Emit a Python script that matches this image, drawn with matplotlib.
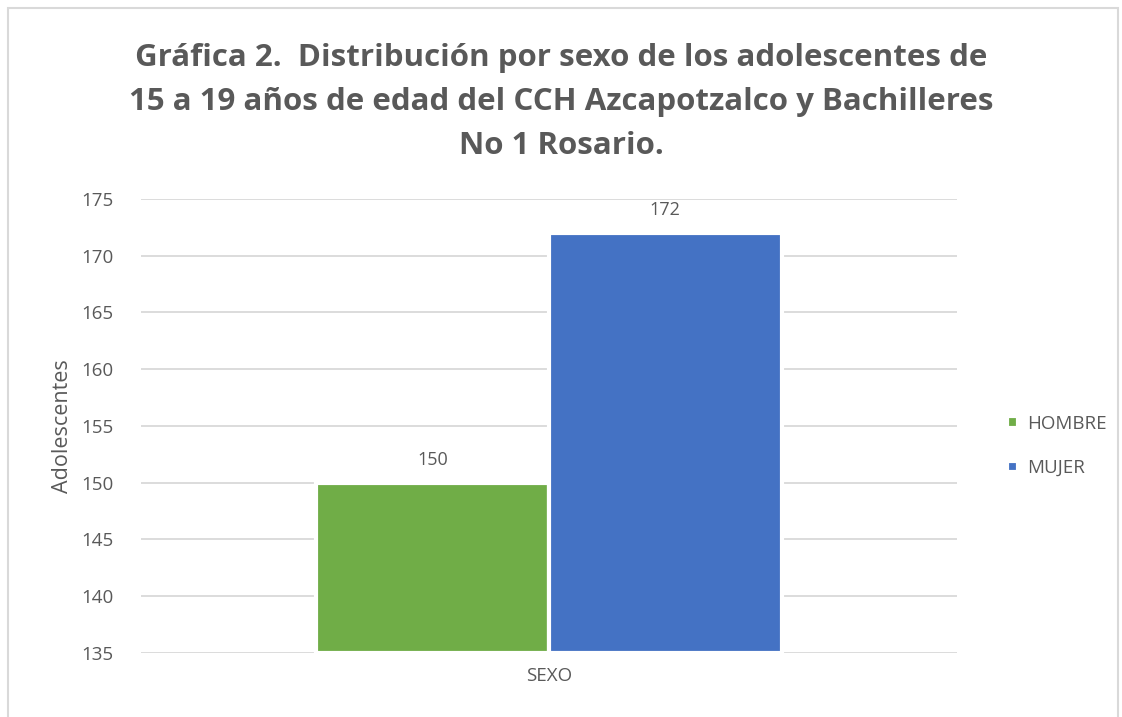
import matplotlib.pyplot as plt
from matplotlib.patches import Rectangle

# counts of adolescents by sex
category = ['SEXO']
series = ['HOMBRE', 'MUJER']
values = [150, 172]
colors = ['#70AD47', '#4472C4']
yticks = [135, 140, 145, 150, 155, 160, 165, 170, 175]

text_color = '#595959'
plt.rcParams['font.family'] = ['Open Sans', 'DejaVu Sans']

fig = plt.figure(figsize=(11.22, 7.17), dpi=100)
ax = fig.add_axes([141 / 1122, 1 - 653 / 717, 816 / 1122, 454 / 717])

width = 0.285
offsets = [-width / 2, width / 2]
for name, val, col, off in zip(series, values, colors, offsets):
    ax.bar(off, val - yticks[0], width=width, bottom=yticks[0], color=col,
           edgecolor='white', linewidth=3, label=name, zorder=3)
    ax.text(off, val + 1.2, str(val), ha='center', va='bottom',
            fontsize=13, color=text_color)

ax.set_xlim(-0.5, 0.5)
ax.set_ylim(yticks[0], yticks[-1])
ax.set_yticks(yticks)
ax.set_xticks([0])
ax.set_xticklabels(category)
ax.tick_params(axis='both', length=0, labelsize=13.5, colors=text_color)
ax.tick_params(axis='y', pad=20)
ax.tick_params(axis='x', pad=10)
ax.yaxis.grid(True, color='#D9D9D9', linewidth=1.3, zorder=0)
ax.set_axisbelow(True)
for s in ax.spines.values():
    s.set_visible(False)
ax.set_ylabel('Adolescentes', fontsize=15.5, color=text_color, labelpad=6)

fig.legend(loc='center left', bbox_to_anchor=(990 / 1122, 1 - 446 / 717),
           frameon=False, fontsize=13.5, labelcolor=text_color,
           handlelength=0.6, handleheight=0.6, handletextpad=0.5,
           labelspacing=1.4)

fig.text(0.5, 1 - 102 / 717,
         'Gráfica 2.  Distribución por sexo de los adolescentes de\n'
         '15 a 19 años de edad del CCH Azcapotzalco y Bachilleres\n'
         'No 1 Rosario.',
         ha='center', va='center', fontsize=22.5, fontweight='bold',
         color=text_color, linespacing=1.6)

# outer chart border
fig.patches.append(Rectangle((8 / 1122, -0.01), 1110 / 1122, 1 - 8 / 717 + 0.01,
                             transform=fig.transFigure, fill=False,
                             edgecolor='#D9D9D9', linewidth=1.5))

fig.savefig('out.png', dpi=100)
